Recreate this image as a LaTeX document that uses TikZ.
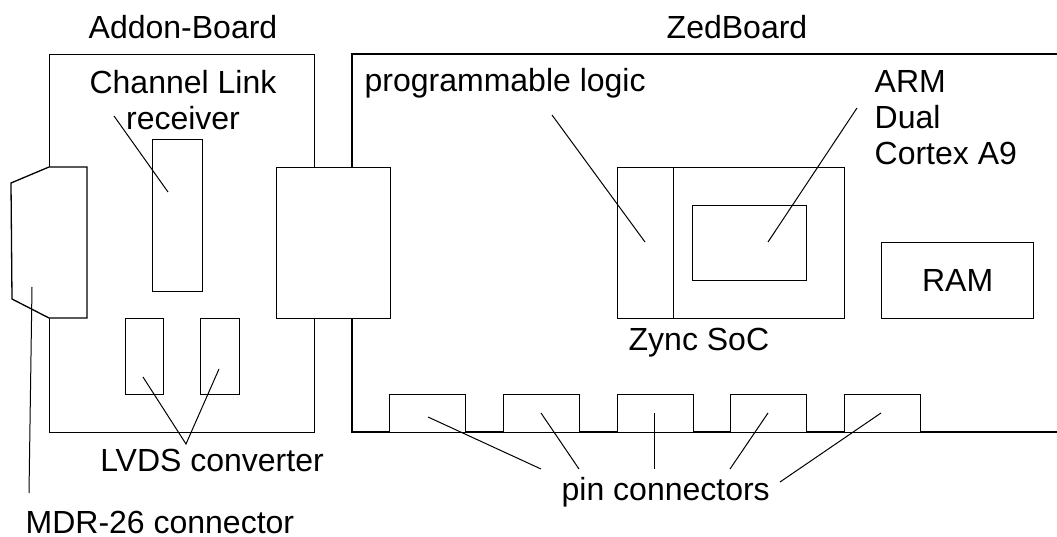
\documentclass[tikz,border=0pt]{standalone}
\usepackage{fontspec}
\setmainfont{Liberation Sans}
\begin{document}
\begin{tikzpicture}[x=1pt,y=-1pt,line width=1.3pt,
    font=\fontsize{32}{36}\selectfont,
    box/.style={draw,fill=white,inner sep=0pt,anchor=north west},
    leader/.style={line width=1pt},
    label/.style={inner sep=0pt}]
    \useasboundingbox (0,0) rectangle (1057,537);
    % boards
    \node[box,minimum width=265pt,minimum height=378pt] (addon) at (49,54) {};
    \draw (1057,54) -- (352,54) -- (352,432) -- (1057,432);
    \node[label,anchor=base] (addonlbl) at (183,39) {Addon-Board};
    \node[label,anchor=base] (zedlbl) at (737,39) {ZedBoard};
    % plugs
    \draw[fill=white] (49,167) -- (87,167) -- (87,318) -- (49,318) -- (12,299) -- (11,183) -- cycle;
    \node[box,minimum width=114pt,minimum height=151pt] (link) at (276,167) {};
    % addon parts
    \node[box,minimum width=50pt,minimum height=152pt] (clr) at (152,139) {};
    \node[box,minimum width=38pt,minimum height=76pt] (lvdsA) at (125,318) {};
    \node[box,minimum width=39pt,minimum height=76pt] (lvdsB) at (200,318) {};
    % zedboard parts
    \node[box,minimum width=227pt,minimum height=151pt] (soc) at (617,167) {};
    \node[box,minimum width=56pt,minimum height=151pt] (pl) at (617,167) {};
    \node[box,minimum width=114pt,minimum height=75pt] (arm) at (692,205) {};
    \node[box,minimum width=152pt,minimum height=76pt] (ram) at (881,242) {};
    \node at (ram.center) {RAM};
    % labels
    \node[label,anchor=north,align=center] (clrlbl) at (183,70) {Channel Link\\receiver};
    \node[label,anchor=base west] (pllbl) at (364,92) {programmable logic};
    \node[label,anchor=north west,align=left] (armlbl) at (874,70) {ARM\\Dual\\Cortex A9};
    \node[label,anchor=base west] (soclbl) at (628,350) {Zync SoC};
    \node[label,anchor=base] (lvdslbl) at (212,471) {LVDS converter};
    \node[label,anchor=base west] (pinlbl) at (561,500) {pin connectors};
    \node[label,anchor=base west] (mdrlbl) at (25,533) {MDR-26 connector};
    % leaders
    \coordinate (c1) at (114,116);  \coordinate (c2) at (168,192);
    \coordinate (m1) at (32,287);   \coordinate (m2) at (29,493);
    \coordinate (v0) at (186,444);
    \coordinate (v1) at (143,377);  \coordinate (v2) at (219,369);
    \coordinate (p1) at (552,115);  \coordinate (p2) at (645,242);
    \coordinate (a1) at (857,108);  \coordinate (a2) at (768,242);
    \draw[leader] (c1) -- (c2);
    \draw[leader] (m1) -- (m2);
    \draw[leader] (v1) -- (v0) -- (v2);
    \draw[leader] (p1) -- (p2);
    \draw[leader] (a1) -- (a2);
    \foreach \x/\ex/\ey/\tx/\ty [count=\i] in {389/428/417/541/469,503/541/413/579/469,
            617/654/413/654/469,730/768/413/730/469,844/881/413/780/482} {
        \node[box,minimum width=76pt,minimum height=38pt] (pin\i) at (\x,394) {};
        \coordinate (pe\i) at (\ex,\ey);
        \coordinate (pt\i) at (\tx,\ty);
        \draw[leader] (pe\i) -- (pt\i);
    }
\end{tikzpicture}
\end{document}
